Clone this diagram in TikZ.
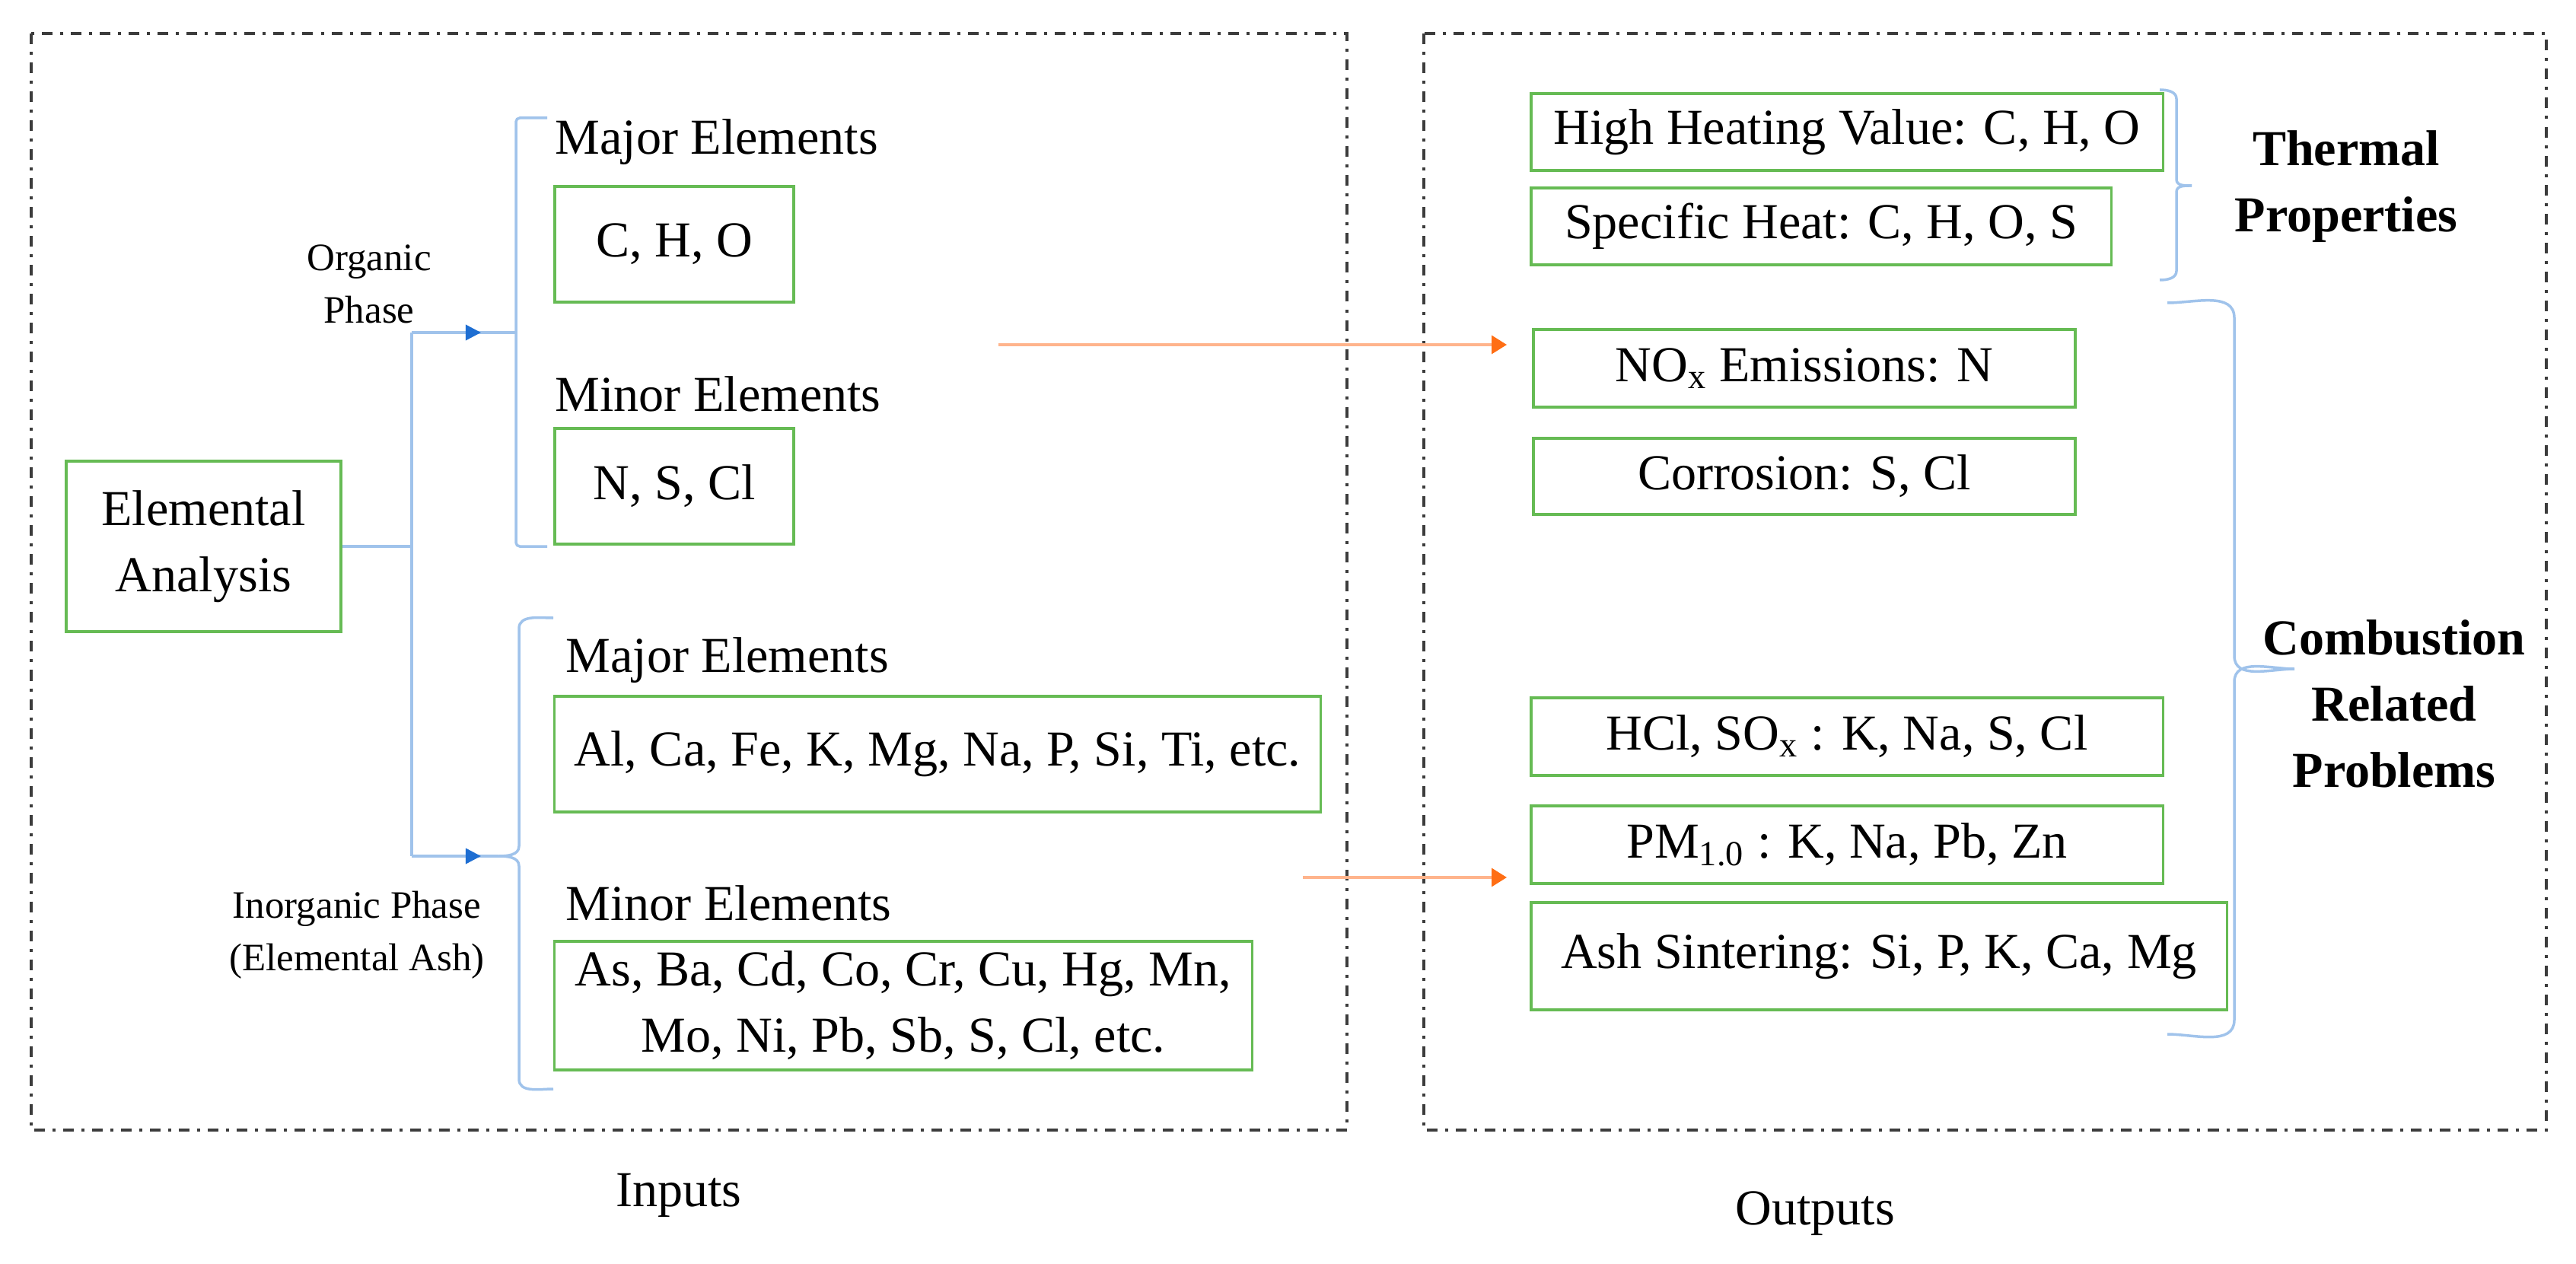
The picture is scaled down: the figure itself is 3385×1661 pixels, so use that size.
\documentclass[tikz,border=0pt]{standalone}
\usepackage{fontspec}
\setmainfont{Liberation Serif}
\usetikzlibrary{arrows.meta}
\definecolor{gbox}{RGB}{102,187,84}
\definecolor{bline}{RGB}{160,195,235}
\definecolor{btip}{RGB}{30,110,210}
\definecolor{oline}{RGB}{255,180,140}
\definecolor{otip}{RGB}{255,110,20}
\definecolor{dgray}{RGB}{60,60,60}
\begin{document}
\begin{tikzpicture}[x=0.01cm,y=-0.01cm,
  big/.style={font=\fontsize{18.8pt}{24.8pt}\selectfont},
  small/.style={font=\fontsize{14.5pt}{19.6pt}\selectfont},
  gb/.style={draw=gbox,line width=0.035cm,inner sep=0pt,align=center,big},
  frame/.style={draw=dgray,line width=0.035cm,dash pattern=on 0.14cm off 0.1cm on 0.04cm off 0.1cm},
  lbl/.style={inner sep=0pt,big,anchor=base west},
  bl/.style={draw=bline,line width=0.035cm},
  barrow/.style={draw=bline,line width=0.035cm,-{Triangle[length=0.2cm,width=0.2cm,color=btip]}},
  oarrow/.style={draw=oline,line width=0.035cm,-{Triangle[length=0.2cm,width=0.24cm,color=otip]}},
  bold/.style={inner sep=0pt,align=center,font=\fontsize{18.8pt}{24.8pt}\selectfont\bfseries}
]
\useasboundingbox (0,0) rectangle (3385,1661);

% frames
\draw[frame] (41,44) rectangle (1770,1485);
\draw[frame] (1871,44) rectangle (3346,1485);

% left side boxes
\node[gb,minimum width=3.61cm,minimum height=2.24cm] (ea) at (267.5,718) {Elemental\\Analysis};
\node[gb,minimum width=3.14cm,minimum height=1.52cm] (cho) at (886,321) {C, H, O};
\node[gb,minimum width=3.14cm,minimum height=1.52cm] (nscl) at (886,639) {N, S, Cl};
\node[gb,minimum width=10.06cm,minimum height=1.52cm] (alca) at (1232,991) {Al, Ca, Fe, K, Mg, Na, P, Si, Ti, etc.};
\node[gb,minimum width=9.16cm,minimum height=1.69cm] (asba) at (1187,1321.5) {As, Ba, Cd, Co, Cr, Cu, Hg, Mn,\\Mo, Ni, Pb, Sb, S, Cl, etc.};

\node[lbl] (majo) at (729,203) {Major Elements};
\node[lbl] (mino) at (729,540) {Minor Elements};
\node[lbl] (maji) at (743,883) {Major Elements};
\node[lbl] (mini) at (743,1209) {Minor Elements};

\node[small,align=center,inner sep=0pt] (orgp) at (485,373) {Organic\\Phase};
\node[small,align=center,inner sep=0pt] (inorgp) at (469,1229) {Inorganic Phase\\(Elemental Ash)};

% right side boxes
\node[gb,minimum width=8.30cm,minimum height=1.01cm] (hhv) at (2427,173.5) {High Heating Value: C, H, O};
\node[gb,minimum width=7.62cm,minimum height=1.01cm] (sh) at (2393,297.5) {Specific Heat: C, H, O, S};
\node[gb,minimum width=7.12cm,minimum height=1.02cm] (nox) at (2371,484) {NO\textsubscript{x} Emissions: N};
\node[gb,minimum width=7.12cm,minimum height=1.00cm] (corr) at (2371,626) {Corrosion: S, Cl};
\node[gb,minimum width=8.30cm,minimum height=1.02cm] (hcl) at (2427,968) {HCl, SO\textsubscript{x} : K, Na, S, Cl};
\node[gb,minimum width=8.30cm,minimum height=1.02cm] (pm) at (2427,1110) {PM\textsubscript{1.0} : K, Na, Pb, Zn};
\node[gb,minimum width=9.14cm,minimum height=1.41cm] (ash) at (2469,1256.5) {Ash Sintering: Si, P, K, Ca, Mg};

\node[bold] (thermal) at (3083,245) {Thermal\\Properties};
\node[bold] (comb) at (3146,925) {Combustion\\Related\\Problems};

\node[big,inner sep=0pt] (inputs) at (892,1571) {Inputs};
\node[big,inner sep=0pt] (outputs) at (2385,1595) {Outputs};

% blue connectors
\coordinate (j1) at (541,718);
\coordinate (jt) at (541,437);
\coordinate (jb) at (541,1125);
\coordinate (ta) at (632,437);
\coordinate (tb) at (632,1125);
\coordinate (bo) at (678,437);
\coordinate (bi) at (655,1125);
\draw[bl] (ea.east) -- (j1);
\draw[bl] (jt) -- (jb);
\draw[bl] (jt) -- (bo);
\draw[bl] (jb) -- (bi);
\draw[barrow] (jt) -- (ta);
\draw[barrow] (jb) -- (tb);

% organic bracket
\draw[bl,rounded corners=0.05cm] (719,155) -- (678,155) -- (678,718) -- (719,718);
% inorganic brace
\draw[bl] (727,812) to[out=180,in=90] (682,826) -- (682,1112) to[out=-90,in=0] (bi)
          to[out=0,in=90] (682,1138) -- (682,1418) to[out=-90,in=180] (727,1431);
% thermal brace
\draw[bl] (2838,118) to[out=0,in=90] (2860,130) -- (2860,236) to[out=-90,in=180] (2880,244);
\draw[bl] (2880,244) to[out=180,in=90] (2860,252) -- (2860,356) to[out=-90,in=0] (2838,368);
% combustion brace
\draw[bl] (2848,398) to[out=0,in=90] (2936,418) -- (2936,862) to[out=-90,in=180] (3015,879)
          to[out=180,in=90] (2936,896) -- (2936,1340) to[out=-90,in=0] (2848,1359);

% orange arrows
\coordinate (o1s) at (1312,453);
\coordinate (o1e) at (1980,453);
\coordinate (o2s) at (1712,1153);
\coordinate (o2e) at (1980,1153);
\draw[oarrow] (o1s) -- (o1e);
\draw[oarrow] (o2s) -- (o2e);
\end{tikzpicture}
\end{document}
